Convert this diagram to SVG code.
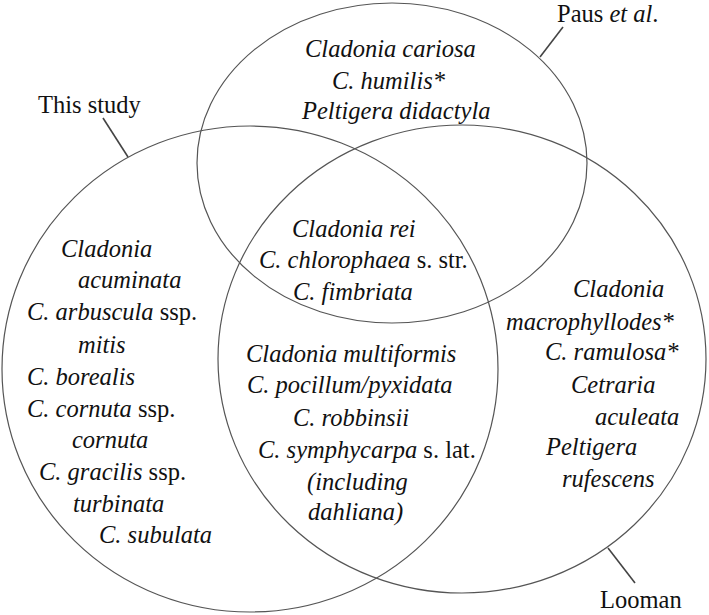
<svg xmlns="http://www.w3.org/2000/svg" width="709" height="615" viewBox="0 0 709 615">
<style>
.c{fill:none;stroke:#555;stroke-width:1.2}
.l{stroke:#444;stroke-width:1.6}
text{font-family:"Liberation Serif","Times New Roman",serif;font-size:24.5px;fill:#111}
.i{font-style:italic}
.u{font-style:normal}
</style>
<rect width="709" height="615" fill="#fff"/>
<g id="set-paus">
<ellipse class="c" cx="392" cy="163" rx="195" ry="160"/>
</g>
<g id="set-this-study">
<ellipse class="c" cx="250" cy="369" rx="248" ry="243"/>
</g>
<g id="set-looman">
<ellipse class="c" cx="462" cy="359" rx="244" ry="234"/>
</g>
<g id="connectors">
<line class="l" x1="540" y1="57" x2="563" y2="27"/>
<line class="l" x1="103" y1="118" x2="128" y2="157"/>
<line class="l" x1="608" y1="548" x2="635" y2="583"/>
</g>
<g id="label-paus"><text x="557" y="22">Paus <tspan class="i">et al</tspan>.</text></g>
<g id="label-this-study"><text x="38" y="113">This study</text></g>
<g id="label-looman"><text x="600" y="608">Looman</text></g>
<g id="paus-only" class="i">
<text x="305" y="57">Cladonia cariosa</text>
<text x="332" y="89">C. humilis*</text>
<text x="302" y="119">Peltigera didactyla</text>
</g>
<g id="this-study-only" class="i">
<text x="61" y="257">Cladonia</text>
<text x="78" y="288">acuminata</text>
<text x="27" y="320">C. arbuscula <tspan class="u">ssp.</tspan></text>
<text x="78" y="353">mitis</text>
<text x="27" y="385">C. borealis</text>
<text x="27" y="417">C. cornuta <tspan class="u">ssp.</tspan></text>
<text x="72" y="448">cornuta</text>
<text x="39" y="480">C. gracilis <tspan class="u">ssp.</tspan></text>
<text x="73" y="512">turbinata</text>
<text x="99" y="543">C. subulata</text>
</g>
<g id="all-three" class="i">
<text x="292" y="237">Cladonia rei</text>
<text x="259" y="268">C. chlorophaea <tspan class="u">s. str.</tspan></text>
<text x="293" y="300">C. fimbriata</text>
</g>
<g id="this-study-looman" class="i">
<text x="246" y="362">Cladonia multiformis</text>
<text x="247" y="393">C. pocillum/pyxidata</text>
<text x="293" y="426">C. robbinsii</text>
<text x="258" y="458">C. symphycarpa <tspan class="u">s. lat.</tspan></text>
<text x="307" y="490">(including</text>
<text x="308" y="520">dahliana)</text>
</g>
<g id="looman-only" class="i">
<text x="573" y="297">Cladonia</text>
<text x="506" y="330">macrophyllodes*</text>
<text x="545" y="360">C. ramulosa*</text>
<text x="571" y="393">Cetraria</text>
<text x="595" y="425">aculeata</text>
<text x="546" y="455">Peltigera</text>
<text x="562" y="487">rufescens</text>
</g>
</svg>
